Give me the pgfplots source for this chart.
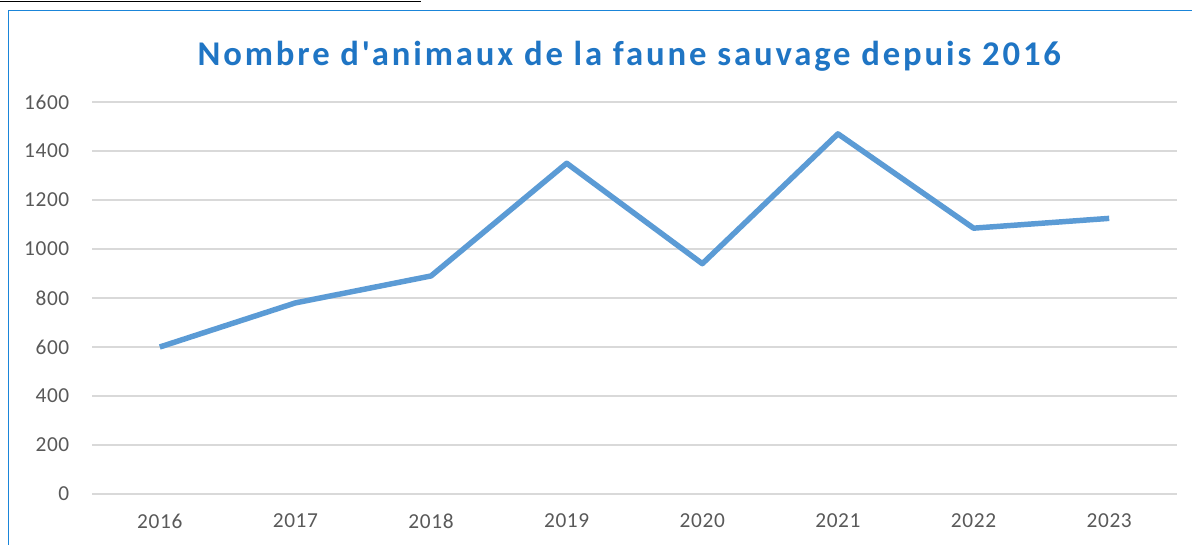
\documentclass[border=0pt]{standalone}
\usepackage{pgfplots}
\pgfplotsset{compat=1.18}
\usepackage{fontspec}
\setmainfont{Carlito}
\newfontfamily\titlefont[LetterSpace=8.3]{Carlito}
\newfontfamily\tickfont[LetterSpace=3]{Carlito}
\definecolor{titleblue}{HTML}{1F75C4}
\definecolor{linebl}{HTML}{5B9BD5}
\definecolor{framebl}{HTML}{1A85D9}
\definecolor{gridg}{HTML}{D9D9D9}
\definecolor{tickg}{HTML}{595959}
\begin{document}
\begin{tikzpicture}
\useasboundingbox (0pt,0pt) rectangle (894pt,408.75pt);
\fill[white] (0pt,0pt) rectangle (894pt,408.75pt);
\draw[black, line width=1.1pt] (0pt,407.6pt) -- (315.5pt,407.6pt);
\draw[framebl, line width=1.3pt] (6.4pt,-5pt) -- (6.4pt,400.9pt) -- (900pt,400.9pt);
\node[font=\titlefont\fontsize{26}{29}\selectfont\bfseries, text=titleblue] at (472pt,366.5pt) {Nombre d'animaux de la faune sauvage depuis 2016};
\begin{axis}[
  at={(69pt,38.25pt)}, anchor=south west,
  width=813.75pt, height=294pt, scale only axis,
  xmin=-0.5, xmax=7.5, ymin=0, ymax=1600,
  ytick={0,200,...,1600},
  xtick={0,...,7},
  xticklabels={2016,2017,2018,2019,2020,2021,2022,2023},
  axis line style={draw=none},
  major tick length=0pt,
  ymajorgrids, major grid style={gridg, line width=1.1pt},
  tick label style={font=\tickfont\fontsize{16}{18}\selectfont, text=tickg},
  /pgf/number format/assume math mode=true,
  /pgf/number format/1000 sep={},
  yticklabel style={xshift=-13.5pt},
  xticklabel style={yshift=-11.5pt},
  clip=false,
]
\addplot[linebl, line width=4.1pt, line join=round] coordinates {
(0,600) (1,780) (2,890) (3,1350) (4,940) (5,1470) (6,1085) (7,1125)};
\end{axis}
\end{tikzpicture}
\end{document}
